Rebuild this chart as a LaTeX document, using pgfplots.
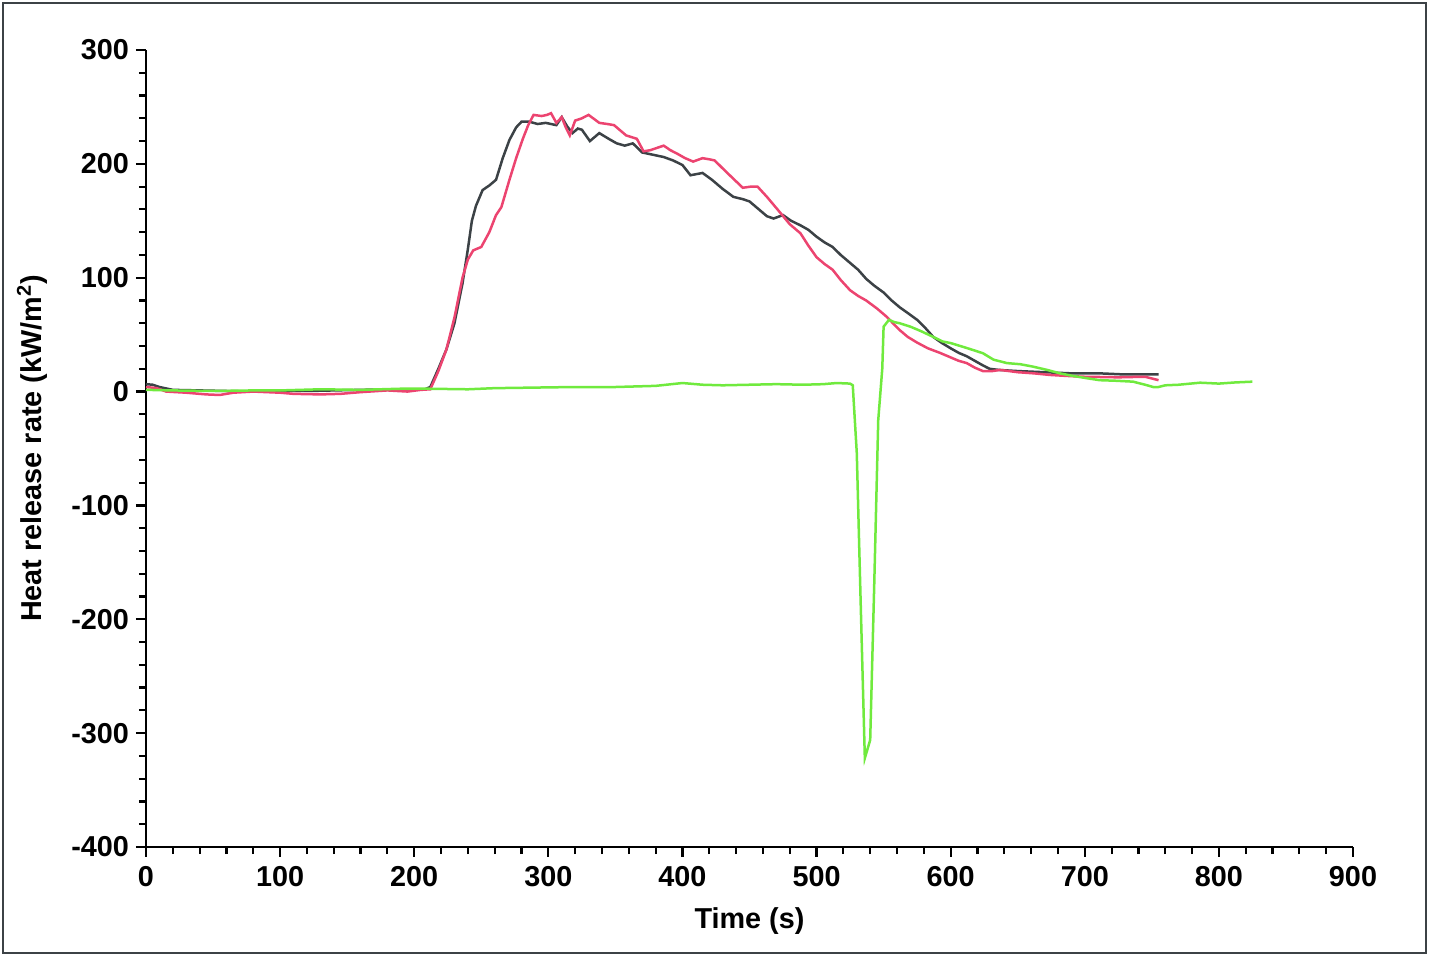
\documentclass[border=0pt]{standalone}
\usepackage{pgfplots}
\pgfplotsset{compat=1.18}
\usepackage{fontspec}
\setmainfont{Liberation Sans}
\definecolor{darkc}{RGB}{60,66,70}
\definecolor{pinkc}{RGB}{236,68,112}
\definecolor{greenc}{RGB}{112,234,62}
\definecolor{framec}{RGB}{60,66,70}
\begin{document}
\begin{tikzpicture}
\useasboundingbox (0,0) rectangle (714.5pt,478pt);
\begin{axis}[
  scale only axis,
  width=603.5pt, height=398.5pt,
  at={(73pt,54.5pt)}, anchor=south west,
  xmin=0, xmax=900, ymin=-400, ymax=300,
  axis lines=left,
  axis line style={-, line width=1.2pt, color=black},
  every tick/.style={line width=1.1pt, black},
  tick align=outside,
  major tick length=5pt, minor tick length=3.6pt,
  xtick={0,100,...,900},
  xticklabels={0,100,200,300,400,500,600,700,800,900},
  ytick={-400,-300,...,300},
  yticklabels={-400,-300,-200,-100,0,100,200,300},
  minor x tick num=4, minor y tick num=4,
  ticklabel style={font=\fontsize{14.4}{17}\selectfont\bfseries},
  xticklabel style={yshift=-1pt},
  label style={font=\fontsize{14.4}{17}\selectfont\bfseries},
  xlabel={Time (s)},
  ylabel={Heat release rate (kW/m\textsuperscript{2})},
  xlabel style={at={(axis description cs:0.5,0)}, anchor=center, yshift=-37pt},
  ylabel style={at={(axis description cs:0,0.5)}, anchor=center, rotate=0, yshift=57pt},
  clip=false,
]
\addplot[darkc, line width=1.25pt] coordinates {
(0,6.5)(5,6)(10,4)(20,1.5)(40,1)(60,0.5)(80,0)(100,0.5)(120,0.5)(140,1)(160,1.5)(180,2)(200,2)(208,2)
(212,4)(218,20)(224,37)(230,60)(236,95)(240,125)(243,150)(246,163)(251,177)(256,181)(261,186)(266,205)
(271,221)(276,232)(280,237)(286,237)(292,235)(298,236)(306,234)(310,241)(314,233)(318,227)(322,231)
(325,230)(331,220)(338,227)(345,222)(351,218)(357,216)(363,218)(370,210)(378,208)(386,206)(393,203)
(400,199)(406,190)(415,192)(422,186)(430,178)(438,171)(445,169)(450,167)(457,160)(463,154)(468,152)
(475,155)(481,150)(488,146)(494,142)(500,136)(506,131)(512,127)(518,120)(525,113)(531,107)(537,99)
(543,93)(550,87)(556,80)(562,74)(568,69)(575,63)(581,56)(587,48)(593,43)(600,38)(606,34)(612,31)
(618,27)(624,23)(629,20)(636,19)(650,18)(670,17)(690,16)(711,16)(730,15)(745,15)(755,15)
};
\addplot[pinkc, line width=1.25pt] coordinates {
(0,4)(8,3)(15,0)(30,-1)(45,-2.5)(55,-3)(65,-1)(80,0)(100,-1)(110,-2)(130,-2.5)(145,-2)(160,-0.5)
(180,1)(195,0)(205,1.5)(212,2)(218,18)(224,37)(230,65)(236,100)(240,116)(244,124)(250,127)(256,140)
(261,155)(265,162)(271,186)(276,205)(281,222)(285,234)(289,243)(295,242)(299,243)(302,244.5)(306,236)
(310,241)(313,232)(316,225)(320,238)(325,240)(330,243)(338,236)(344,235)(349,234)(354,229)(358,225)
(366,222)(371,211)(376,212)(381,214)(386,216)(391,212)(396,209)(402,205)(408,202)(415,205)(420,204)
(424,203)(430,196)(437,188)(445,179)(451,180)(456,180)(463,171)(468,164)(473,157)(480,147)(488,139)
(494,128)(500,118)(506,112)(512,107)(518,98)(525,89)(531,84)(537,80)(545,73)(552,66)(557,60)(562,54)
(568,48)(575,43)(583,38)(592,34)(600,30)(606,27)(612,25)(618,21)(624,18)(631,18)(637,19)(650,17)
(662,16)(674,14.6)(687,13.7)(700,13)(711,12.8)(725,12.5)(736,12.8)(745,13)(750,11.5)(755,10)
};
\addplot[greenc, line width=1.25pt] coordinates {
(0,1.5)(20,1)(50,0.5)(80,1)(100,1)(130,2)(160,1.5)(190,2.5)(210,2.5)(240,2)(260,3)(290,3.5)(320,4)
(350,4)(380,5)(400,7.5)(415,6)(430,5.5)(450,6)(470,6.5)(490,6)(505,6.5)(515,7.5)(525,7)(527,5.5)
(530,-54)(533,-190)(536,-322)(540,-306)(543,-170)(546,-25)(549,20)(550,57)(554,63)(558,61)(562,60)
(570,57)(578,53)(587,48)(594,44)(600,42.6)(610,39)(618,36)(624,33.7)(632,28)(642,25)(652,24)(661,22)
(672,19)(681.5,16)(690,14)(700,12)(711,10)(723,9.5)(736,8.7)(745,6)(751,4)(755,4)(760,5.5)(770,6)
(786,7.8)(800,7)(812,8)(825,8.7)
};
\end{axis}
\draw[framec, line width=1pt] (1.5pt,1.5pt) rectangle (713pt,476.5pt);
\end{tikzpicture}
\end{document}
